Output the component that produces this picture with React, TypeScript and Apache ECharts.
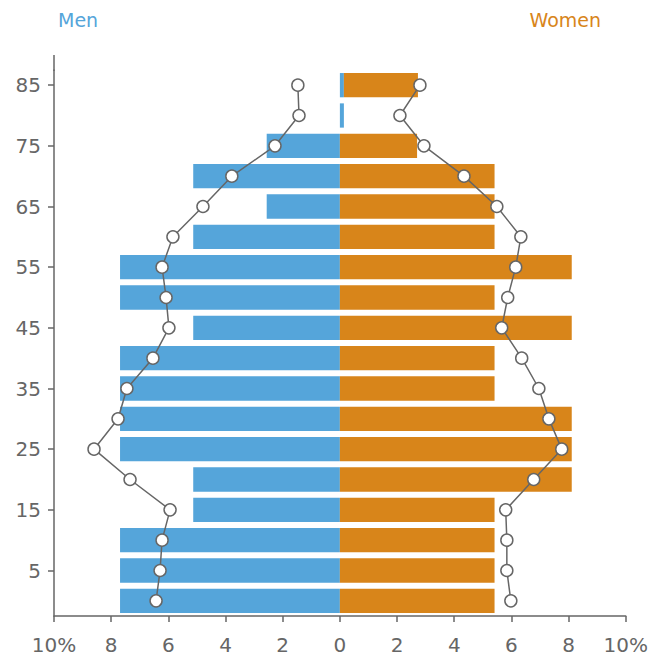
import React, { useEffect, useRef } from "react";
import * as echarts from "echarts";

const ages = ["0", "5", "10", "15", "20", "25", "30", "35", "40", "45", "50", "55", "60", "65", "70", "75", "80", "85"];
const menBars = [-7.69, -7.69, -7.69, -5.13, -5.13, -7.69, -7.69, -7.69, -7.69, -5.13, -7.69, -7.69, -5.13, -2.56, -5.13, -2.56, 0.14, 0.14];
const womenBars = [5.41, 5.41, 5.41, 5.41, 8.11, 8.11, 8.11, 5.41, 5.41, 8.11, 5.41, 8.11, 5.41, 5.41, 5.41, 2.7, 0, 2.59];
const menLine = [-6.43, -6.29, -6.22, -5.94, -7.34, -8.6, -7.76, -7.45, -6.54, -5.98, -6.08, -6.22, -5.84, -4.79, -3.78, -2.27, -1.43, -1.47];
const womenLine = [5.98, 5.84, 5.84, 5.8, 6.78, 7.76, 7.31, 6.96, 6.36, 5.66, 5.87, 6.15, 6.33, 5.49, 4.34, 2.94, 2.1, 2.8];

const BLUE = "#55a5da";
const ORANGE = "#d8851a";
const GRAY = "#666666";
const FONT = "DejaVu Sans";

export default function App() {
  const ref = useRef<HTMLDivElement>(null);
  useEffect(() => {
    const chart = echarts.init(ref.current!, null, { renderer: "svg" });
    const lineStyle = { color: GRAY, width: 1.5 };
    const itemStyle = { color: "#ffffff", borderColor: GRAY, borderWidth: 1.5 };
    chart.setOption({
      animation: false,
      textStyle: { fontFamily: FONT },
      title: [
        { text: "Men", left: 53, top: 5, textStyle: { color: BLUE, fontSize: 19, fontWeight: "normal", fontFamily: FONT } },
        { text: "Women", right: 45, top: 5, textStyle: { color: ORANGE, fontSize: 19, fontWeight: "normal", fontFamily: FONT } },
      ],
      grid: { left: 54, right: 24, top: 70, bottom: 43, containLabel: false },
      graphic: [
        { type: "line", shape: { x1: 54, y1: 55, x2: 54, y2: 71 }, style: { stroke: GRAY, lineWidth: 1.5 } },
      ],
      xAxis: {
        type: "value",
        min: -10,
        max: 10,
        interval: 2,
        splitLine: { show: false },
        axisLine: { show: true, lineStyle: { color: GRAY, width: 1.5 } },
        axisTick: { show: true, length: 6, lineStyle: { color: GRAY, width: 1.5 } },
        axisLabel: {
          color: GRAY,
          fontSize: 20,
          fontFamily: FONT,
          margin: 19,
          formatter: (v: number) => (Math.abs(v) === 10 ? "10%" : String(Math.abs(v))),
        },
      },
      yAxis: {
        type: "category",
        data: ages,
        axisLine: { show: true, onZero: false, lineStyle: { color: GRAY, width: 1.5 } },
        axisTick: {
          show: true,
          length: 6,
          alignWithLabel: true,
          interval: (i: number) => i % 2 === 1,
          lineStyle: { color: GRAY, width: 1.5 },
        },
        axisLabel: {
          color: GRAY,
          fontSize: 20,
          fontFamily: FONT,
          margin: 13,
          interval: (i: number) => i % 2 === 1,
        },
      },
      series: [
        { type: "bar", name: "Men", stack: "pop", data: menBars, barCategoryGap: "20%", itemStyle: { color: BLUE } },
        { type: "bar", name: "Women", stack: "pop", data: womenBars, barCategoryGap: "20%", itemStyle: { color: ORANGE } },
        { type: "line", name: "MenRef", data: menLine, symbol: "circle", symbolSize: 12, lineStyle, itemStyle, z: 5 },
        { type: "line", name: "WomenRef", data: womenLine, symbol: "circle", symbolSize: 12, lineStyle, itemStyle, z: 5 },
      ],
    });
    return () => chart.dispose();
  }, []);
  return <div ref={ref} style={{ position: "absolute", left: 0, top: 0, width: 651, height: 659 }} />;
}
